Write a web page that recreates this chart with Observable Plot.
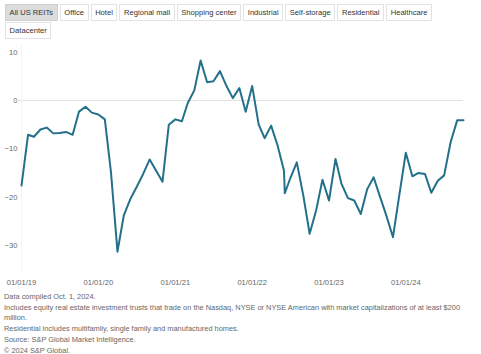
<!DOCTYPE html>
<html>
<head>
<meta charset="utf-8">
<script src="https://cdn.jsdelivr.net/npm/d3@7"></script>
<script src="https://cdn.jsdelivr.net/npm/@observablehq/plot@0.6"></script>
<style>
  html, body { margin: 0; padding: 0; background: #fff; overflow: hidden; width: 481px; height: 354px; }
  body { font-family: "Liberation Sans", Arial, sans-serif; }
  #tabs { display: flex; flex-wrap: wrap; padding: 4px 0 0 5px; height: 36px; box-sizing: content-box; align-content: flex-start; }
  .tab { font-size: 7.6px; color: #333; border: 1px solid #e3e3e3; height: 15px; line-height: 15px; padding: 0 3.6px; margin: 0 2px 1px 0; white-space: nowrap; box-sizing: content-box; }
  .tab.sel { background: #dcdcdc; border-color: #d0d0d0; }
  #chart svg { display: block; }
  #foot { padding-left: 4px; font-size: 7.4px; color: #666; line-height: 10.7px; margin-top: 0px; }
</style>
</head>
<body>
<div id="tabs"></div>
<div id="chart"></div>
<div id="foot"></div>
<script>
const tabs = ["All US REITs", "Office", "Hotel", "Regional mall", "Shopping center", "Industrial", "Self-storage", "Residential", "Healthcare", "Datacenter"];

const dates = [
  "2019-01-01","2019-02-01","2019-03-01","2019-04-01","2019-05-01","2019-06-01","2019-07-01","2019-08-01","2019-09-01","2019-10-01","2019-11-01","2019-12-01",
  "2020-01-01","2020-02-01","2020-03-01","2020-04-01","2020-05-01","2020-06-01","2020-07-01","2020-08-01","2020-09-01","2020-10-01","2020-11-01","2020-12-01",
  "2021-01-01","2021-02-01","2021-03-01","2021-04-01","2021-05-01","2021-06-01","2021-07-01","2021-08-01","2021-09-01","2021-10-01","2021-11-01","2021-12-01",
  "2022-01-01","2022-02-01","2022-03-01","2022-04-01","2022-05-01","2022-06-01","2022-06-05","2022-07-01","2022-08-01","2022-09-01","2022-10-01","2022-11-01","2022-12-01",
  "2023-01-01","2023-02-01","2023-03-01","2023-04-01","2023-05-01","2023-06-01","2023-07-01","2023-08-01","2023-09-01","2023-10-01","2023-11-01","2023-12-01",
  "2024-01-01","2024-02-01","2024-03-01","2024-04-01","2024-05-01","2024-06-01","2024-07-01","2024-08-01","2024-09-01","2024-10-01"
];
const values = [
  -17.6, -7.1, -7.5, -6.0, -5.6, -6.8, -6.7, -6.5, -7.1, -2.3, -1.3, -2.5,
  -2.9, -3.9, -14.8, -31.3, -23.8, -20.4, -17.9, -15.2, -12.2, -14.5, -16.8, -5.0,
  -3.9, -4.3, -0.5, 2.1, 8.3, 3.8, 4.0, 6.1, 3.0, 0.5, 2.6, -2.3,
  3.0, -5.0, -7.8, -5.2, -9.2, -14.5, -19.2, -16.1, -12.8, -19.7, -27.6, -22.7, -16.4,
  -20.7, -12.1, -17.2, -20.2, -20.7, -23.5, -18.4, -15.9, -20.0, -23.9, -28.3, -19.6,
  -10.8, -15.7, -15.0, -15.2, -19.1, -16.6, -15.5, -8.6, -4.1, -4.1
];
const yTicks = [10, 0, -10, -20, -30];
const xTickDates = ["2019-01-01", "2020-01-01", "2021-01-01", "2022-01-01", "2023-01-01", "2024-01-01"];
const footnotes = [
  "Data compiled Oct. 1, 2024.",
  "Includes equity real estate investment trusts that trade on the Nasdaq, NYSE or NYSE American with market capitalizations of at least $200 million.",
  "Residential includes multifamily, single family and manufactured homes.",
  "Source: S&P Global Market Intelligence.",
  "© 2024 S&P Global."
];

// tabs
const tabsEl = document.getElementById("tabs");
tabs.forEach((t, i) => {
  const d = document.createElement("div");
  d.className = "tab" + (i === 0 ? " sel" : "");
  d.textContent = t;
  tabsEl.appendChild(d);
});

const data = dates.map((d, i) => ({date: new Date(d), value: values[i]}));

const chart = Plot.plot({
  width: 481,
  height: 252,
  marginLeft: 21,
  marginRight: 18,
  marginTop: 5,
  marginBottom: 22,
  style: {fontFamily: "'Liberation Sans', Arial, sans-serif", fontSize: "7.6px", color: "#666", background: "#fff"},
  x: {
    type: "utc",
    domain: [new Date(dates[0]), new Date(dates[dates.length - 1])],
    ticks: xTickDates.map(d => new Date(d)),
    tickFormat: d3.utcFormat("%m/%d/%y"),
    tickSize: 0,
    tickPadding: 9,
    label: null
  },
  y: {
    domain: [-35.2, 11.4],
    ticks: yTicks,
    tickSize: 0,
    tickPadding: 4,
    label: null
  },
  marks: [
    Plot.ruleY([0], {stroke: "#e2e2e2", strokeWidth: 1, insetLeft: -8, insetRight: 0}),
    Plot.ruleX([new Date(dates[0])], {stroke: "#f3f3f3", strokeWidth: 1}),
    Plot.line(data, {x: "date", y: "value", stroke: "#22708a", strokeWidth: 2, curve: "linear"})
  ]
});
document.getElementById("chart").appendChild(chart);

const foot = document.getElementById("foot");
footnotes.forEach(t => {
  const d = document.createElement("div");
  d.textContent = t;
  foot.appendChild(d);
});
</script>
</body>
</html>
